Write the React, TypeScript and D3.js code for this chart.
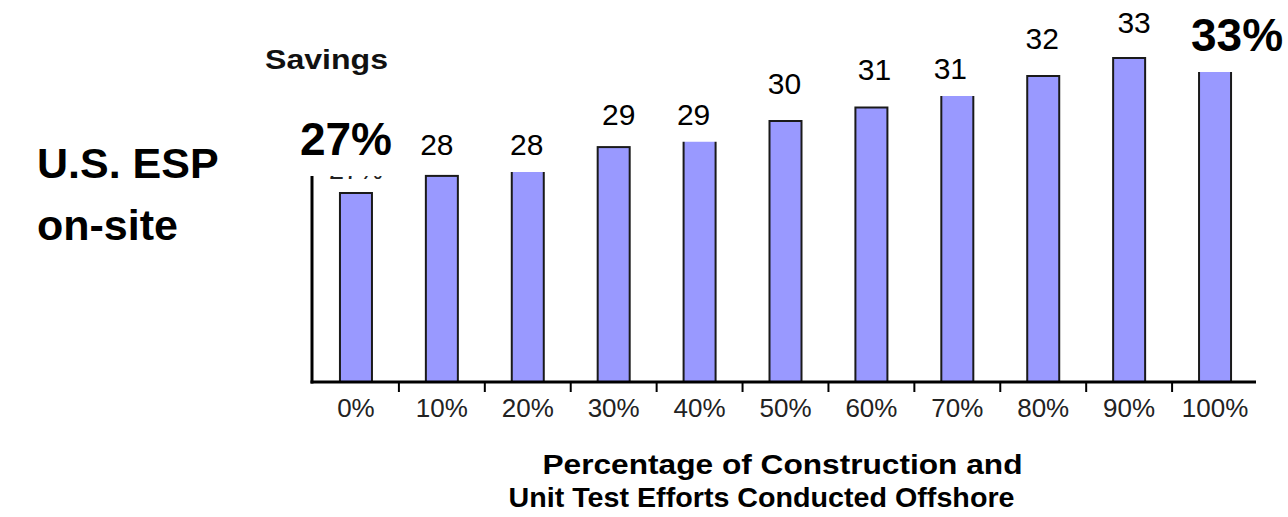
import React, { useEffect, useRef } from "react";
import * as d3 from "d3";

// ---------- data ----------
const categories = ["0%", "10%", "20%", "30%", "40%", "50%", "60%", "70%", "80%", "90%", "100%"];
const savings = [27.0, 27.76, 28.2, 29.04, 29.5, 30.2, 30.8, 31.4, 32.2, 33.0, 33.4];
const valueLabels = ["27%", "28", "28", "29", "29", "30", "31", "31", "32", "33", "33%"];
const emphasised = [true, false, false, false, false, false, false, false, false, false, true];
const originalFirstLabel = "27%";
const yAxisTitle = "Savings";
const xAxisTitle = ["Percentage of Construction and", "Unit Test Efforts Conducted Offshore"];
const sideTitle = ["U.S. ESP", "on-site"];

// ---------- layout (not data) ----------
const W = 1288;
const H = 517;
const labelGap = [38, 21, 11, 22, 12, 27, 28, 15, 27, 25, -2];
const labelShift = [-10, -5, -1, 5, -6, -1, 3, -7, -1, 5, 22];

export default function App() {
  const ref = useRef<SVGSVGElement | null>(null);

  useEffect(() => {
    document.body.style.margin = "0";
    const svg = d3.select(ref.current);
    svg.selectAll("*").remove();

    const left = 313;
    const right = 1258;
    const base = 382;
    const x = d3.scaleBand<string>().domain(categories).range([left, right]).padding(0);
    const y = d3.scaleLinear().domain([18.6, 33.6]).range([base, 44.5]);
    const barW = 32;
    const cx = (c: string) => (x(c) as number) + x.bandwidth() / 2;

    const g = svg.append("g");

    // bars
    g.selectAll("rect.bar")
      .data(savings)
      .join("rect")
      .attr("class", "bar")
      .attr("x", (_, i) => cx(categories[i]) - barW / 2)
      .attr("width", barW)
      .attr("y", (d) => y(d))
      .attr("height", (d) => base - y(d))
      .attr("fill", "#9999FF")
      .attr("stroke", "#1a1a1a")
      .attr("stroke-width", 2);

    // original (mostly hidden) small label of the first bar
    g.append("text")
      .attr("x", cx(categories[0]))
      .attr("y", y(savings[0]) - 14)
      .attr("text-anchor", "middle")
      .attr("font-family", "Liberation Sans, Arial, sans-serif")
      .attr("font-size", 27)
      .attr("fill", "#222")
      .text(originalFirstLabel);

    // value labels with white boxes
    let firstBoxBottom = base;
    valueLabels.forEach((lab, i) => {
      const lg = g.append("g");
      const rect = lg.append("rect").attr("fill", "#fff");
      const t = lg
        .append("text")
        .attr("x", cx(categories[i]) + labelShift[i])
        .attr("y", y(savings[i]) - labelGap[i])
        .attr("text-anchor", "middle")
        .attr("font-family", "Liberation Sans, Arial, sans-serif")
        .attr("font-size", emphasised[i] ? 46 : 30)
        .attr("font-weight", emphasised[i] ? "bold" : "normal")
        .attr("fill", "#000")
        .text(lab);
      const bb = (t.node() as SVGTextElement).getBBox();
      const top = bb.y + (emphasised[i] ? 2 : 1);
      const bottom = bb.y + bb.height + 11;
      rect
        .attr("x", bb.x - 8)
        .attr("y", top)
        .attr("width", bb.width + 16)
        .attr("height", bottom - top);
      if (i === 0) firstBoxBottom = bottom;
    });

    // axes
    const axisColor = "#000";
    g.append("line")
      .attr("x1", left - 1)
      .attr("x2", left - 1)
      .attr("y1", base + 1.5)
      .attr("y2", firstBoxBottom)
      .attr("stroke", axisColor)
      .attr("stroke-width", 3);
    g.append("line")
      .attr("x1", left - 2.5)
      .attr("x2", right - 2)
      .attr("y1", base)
      .attr("y2", base)
      .attr("stroke", axisColor)
      .attr("stroke-width", 3);

    // ticks at category boundaries
    g.selectAll("line.tick")
      .data(categories.slice(1))
      .join("line")
      .attr("class", "tick")
      .attr("x1", (c) => x(c) as number)
      .attr("x2", (c) => x(c) as number)
      .attr("y1", base)
      .attr("y2", base + 10)
      .attr("stroke", axisColor)
      .attr("stroke-width", 2);

    // tick labels
    g.selectAll("text.tl")
      .data(categories)
      .join("text")
      .attr("class", "tl")
      .attr("x", (c) => cx(c))
      .attr("y", 417)
      .attr("text-anchor", "middle")
      .attr("font-family", "Liberation Sans, Arial, sans-serif")
      .attr("font-size", 26)
      .attr("fill", "#222")
      .text((c) => c);

    // x axis title
    const mid = (left + right) / 2;
    g.append("text")
      .attr("x", mid - 243)
      .attr("y", 474)
      .attr("font-family", "Liberation Sans, Arial, sans-serif")
      .attr("font-size", 27)
      .attr("font-weight", "bold")
      .attr("textLength", 480)
      .attr("lengthAdjust", "spacingAndGlyphs")
      .text(xAxisTitle[0]);
    g.append("text")
      .attr("x", mid - 277)
      .attr("y", 507)
      .attr("font-family", "Liberation Sans, Arial, sans-serif")
      .attr("font-size", 27)
      .attr("font-weight", "bold")
      .attr("textLength", 506)
      .attr("lengthAdjust", "spacingAndGlyphs")
      .text(xAxisTitle[1]);

    // y axis title
    g.append("text")
      .attr("x", 265)
      .attr("y", 69)
      .attr("font-family", "Liberation Sans, Arial, sans-serif")
      .attr("font-size", 28)
      .attr("font-weight", "bold")
      .attr("fill", "#111")
      .attr("textLength", 123)
      .attr("lengthAdjust", "spacingAndGlyphs")
      .text(yAxisTitle);

    // side title
    sideTitle.forEach((s, i) => {
      g.append("text")
        .attr("x", 37)
        .attr("y", 178 + i * 62)
        .attr("font-family", "Liberation Sans, Arial, sans-serif")
        .attr("font-size", 43)
        .attr("font-weight", "bold")
        .attr("fill", "#000")
        .text(s);
    });
  }, []);

  return <svg ref={ref} width={W} height={H} style={{ display: "block", background: "#fff" }} />;
}
